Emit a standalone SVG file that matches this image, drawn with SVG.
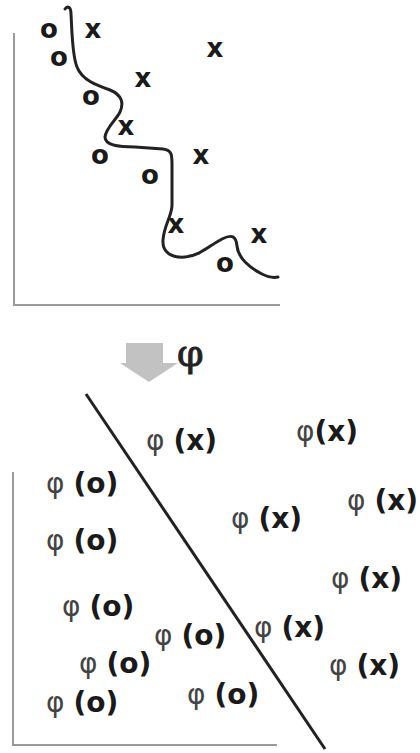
<svg xmlns="http://www.w3.org/2000/svg" width="420" height="753" viewBox="0 0 420 753">
<style>
.axis{fill:none;stroke:#9a9a9a;stroke-width:2}
.curve{fill:none;stroke:#222;stroke-width:3;stroke-linecap:round}
.m{font-family:"DejaVu Sans",sans-serif;font-weight:bold;font-size:26px;fill:#1a1a1a;text-anchor:middle}
.l{font-family:"DejaVu Sans",sans-serif;font-size:28px}
.p{font-weight:normal;fill:#444}
.b{font-weight:bold;fill:#1a1a1a}
.phi{font-family:"DejaVu Serif",serif;font-size:38px;fill:#222;stroke:#222;stroke-width:0.9}
</style>
<rect width="420" height="753" fill="#fff"/>
<g id="top-plot">
<path class="axis" d="M14,33 V305 H280"/>
<g id="boundary-curve"><path class="curve" d="M65,9 C67,6 71,6 71,14 C72,30 72,55 77,67 C82,80 96,85 110,90 C122,95 124,103 120,112 C116,120 106,128 105,137 C105,146 120,147 135,147 L163,149 C172,150 172,155 172,165 L172,205 C172,216 164,225 163,240 C162,253 172,258 185,257 C200,256 210,245 222,239 C232,234 236,236 237,246 C238,258 250,268 262,274 C270,278 274,278 278,277"/></g>
<g id="o1"><text class="m" x="49" y="38">o</text></g>
<g id="x1"><text class="m" x="93" y="38">x</text></g>
<g id="o2"><text class="m" x="59" y="66">o</text></g>
<g id="x2"><text class="m" x="215" y="57">x</text></g>
<g id="x3"><text class="m" x="143" y="87">x</text></g>
<g id="o3"><text class="m" x="91" y="105">o</text></g>
<g id="x4"><text class="m" x="126" y="135">x</text></g>
<g id="o4"><text class="m" x="100" y="164">o</text></g>
<g id="x5"><text class="m" x="201" y="164">x</text></g>
<g id="o5"><text class="m" x="150" y="184">o</text></g>
<g id="x6"><text class="m" x="176" y="233">x</text></g>
<g id="x7"><text class="m" x="259" y="243">x</text></g>
<g id="o6"><text class="m" x="225" y="272">o</text></g>
</g>
<g id="mapping">
<polygon points="126,343 163,343 163,363 178,363 149,382 120,363 126,363" fill="#c2c2c2"/>
<text class="phi" x="177" y="366">φ</text>
</g>
<g id="bottom-plot">
<path class="axis" d="M13,472 V745 H277"/>
<g id="separator"><line x1="86" y1="394" x2="325" y2="749" stroke="#222" stroke-width="3"/></g>
<g id="px1"><text class="l" x="146" y="450"><tspan class="p">φ</tspan> <tspan class="b">(x)</tspan></text></g>
<g id="px2"><text class="l" x="296" y="441"><tspan class="p">φ</tspan><tspan class="b">(x)</tspan></text></g>
<g id="po1"><text class="l" x="46" y="493"><tspan class="p">φ</tspan> <tspan class="b">(o)</tspan></text></g>
<g id="px3"><text class="l" x="347" y="510"><tspan class="p">φ</tspan> <tspan class="b">(x)</tspan></text></g>
<g id="px4"><text class="l" x="231" y="528"><tspan class="p">φ</tspan> <tspan class="b">(x)</tspan></text></g>
<g id="po2"><text class="l" x="46" y="550"><tspan class="p">φ</tspan> <tspan class="b">(o)</tspan></text></g>
<g id="px5"><text class="l" x="331" y="588"><tspan class="p">φ</tspan> <tspan class="b">(x)</tspan></text></g>
<g id="po3"><text class="l" x="62" y="616"><tspan class="p">φ</tspan> <tspan class="b">(o)</tspan></text></g>
<g id="po4"><text class="l" x="154" y="645"><tspan class="p">φ</tspan> <tspan class="b">(o)</tspan></text></g>
<g id="px6"><text class="l" x="254" y="637"><tspan class="p">φ</tspan> <tspan class="b">(x)</tspan></text></g>
<g id="po5"><text class="l" x="79" y="673"><tspan class="p">φ</tspan> <tspan class="b">(o)</tspan></text></g>
<g id="px7"><text class="l" x="329" y="675"><tspan class="p">φ</tspan> <tspan class="b">(x)</tspan></text></g>
<g id="po6"><text class="l" x="46" y="712"><tspan class="p">φ</tspan> <tspan class="b">(o)</tspan></text></g>
<g id="po7"><text class="l" x="187" y="704"><tspan class="p">φ</tspan> <tspan class="b">(o)</tspan></text></g>
</g>
</svg>
